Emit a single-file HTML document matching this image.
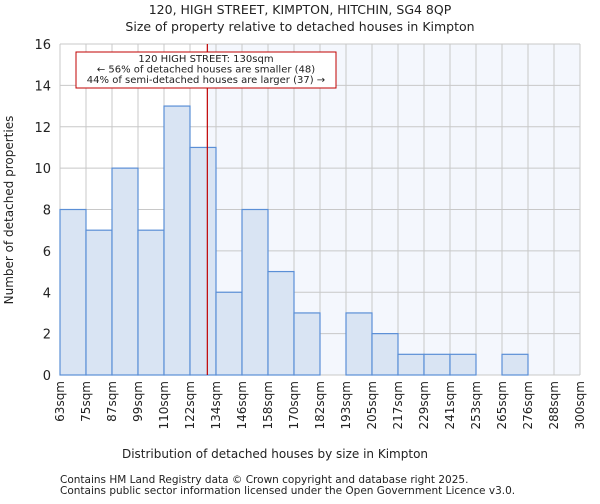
<!DOCTYPE html>
<html><head><meta charset="utf-8"><style>
body{margin:0;background:#fff;font-family:"DejaVu Sans","Liberation Sans",sans-serif}
svg text{font-family:"DejaVu Sans","Liberation Sans",sans-serif;fill:#222}
</style></head><body>
<svg id="c" width="600" height="500" xmlns="http://www.w3.org/2000/svg">
<text x="300" y="14" font-size="12.5" text-anchor="middle">120, HIGH STREET, KIMPTON, HITCHIN, SG4 8QP</text>
<text x="300" y="31" font-size="12.5" text-anchor="middle">Size of property relative to detached houses in Kimpton</text>
<g id="plot"></g>
<text x="275" y="458" font-size="12" text-anchor="middle">Distribution of detached houses by size in Kimpton</text>
<text transform="translate(13,210) rotate(-90)" font-size="12" text-anchor="middle">Number of detached properties</text>
<text x="60" y="483" font-size="10.5">Contains HM Land Registry data © Crown copyright and database right 2025.</text>
<text x="60" y="494" font-size="10.5">Contains public sector information licensed under the Open Government Licence v3.0.</text>
</svg>
<script>
const binLabels=["63sqm","75sqm","87sqm","99sqm","110sqm","122sqm","134sqm","146sqm","158sqm","170sqm","182sqm","193sqm","205sqm","217sqm","229sqm","241sqm","253sqm","265sqm","276sqm","288sqm","300sqm"];
const counts=[8,7,10,7,13,11,4,8,5,3,0,3,2,1,1,1,0,1,0,0];
const yTicks=[0,2,4,6,8,10,12,14,16];
const markerBinPos=5+8/12;
const NS="http://www.w3.org/2000/svg";
const L=60,R=580,T=44,B=375,yMax=16;
const bw=(R-L)/counts.length;
const xs=i=>L+i*bw;
const ys=v=>B-(v/yMax)*(B-T);
const g=document.getElementById('plot');
function mk(t,a){const e=document.createElementNS(NS,t);for(const k in a)e.setAttribute(k,a[k]);g.appendChild(e);return e;}
const mx=xs(markerBinPos);
let e=mk('rect',{x:mx,y:T,width:R-mx,height:B-T,fill:'#f4f7fd'});


for(const v of yTicks){
 e=mk('line',{x1:L,x2:R,y1:ys(v),y2:ys(v),stroke:'#c8c8c8'});
 
 
 e=mk('text',{x:L-9,y:ys(v)+5,'font-size':13,'text-anchor':'end'});e.textContent=v;
 
 
}
binLabels.forEach((lb,i)=>{
 e=mk('line',{x1:xs(i),x2:xs(i),y1:T,y2:B,stroke:'#c8c8c8'});
 
 
 const x=xs(i);
 e=mk('text',{transform:`translate(${x+4},${B+6}) rotate(-90)`,'font-size':12,'text-anchor':'end'});e.textContent=lb;
 
 
});
counts.forEach((c,i)=>{
 if(c<=0)return;
 e=mk('rect',{x:xs(i),y:ys(c),width:bw,height:B-ys(c),fill:'#d9e4f3',stroke:'#5b8fd6','stroke-width':1.2});
 
 
});
e=mk('line',{x1:mx,x2:mx,y1:T,y2:B,stroke:'#c00000','stroke-width':1.2});


e=mk('rect',{x:76,y:52,width:260,height:36,fill:'#fff',stroke:'#c00000'});


["120 HIGH STREET: 130sqm","← 56% of detached houses are smaller (48)","44% of semi-detached houses are larger (37) →"].forEach((t,i)=>{
 e=mk('text',{x:206,y:62+i*10.5,'font-size':10,'text-anchor':'middle'});e.textContent=t;
 
 
});
</script>
</body></html>
